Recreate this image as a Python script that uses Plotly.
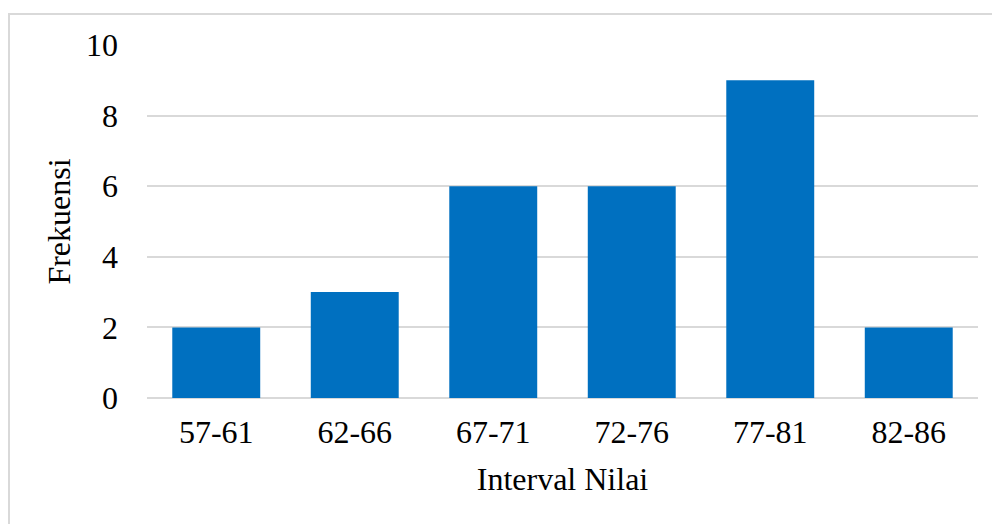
import plotly.graph_objects as go

# Frequency distribution of scores
intervals = ["57-61", "62-66", "67-71", "72-76", "77-81", "82-86"]
frequencies = [2, 3, 6, 6, 9, 2]
y_ticks = [0, 2, 4, 6, 8, 10]

W, H = 992, 524
L, R, T, B = 147, 14, 45, 126
pw, ph = W - L - R, H - T - B

fig = go.Figure(
    go.Bar(
        x=intervals,
        y=frequencies,
        marker=dict(color="#0070C0", line=dict(width=0)),
    )
)

font_family = "Liberation Serif, Times New Roman, serif"
fs = 32

fig.update_layout(
    width=W,
    height=H,
    margin=dict(l=L, r=R, t=T, b=B),
    paper_bgcolor="white",
    plot_bgcolor="white",
    bargap=0.365,
    showlegend=False,
    font=dict(family=font_family, size=fs, color="#000000"),
    xaxis=dict(
        showgrid=False,
        showline=False,
        ticks="",
        ticklabelstandoff=12,
        tickfont=dict(size=fs),
        title=dict(text="Interval Nilai", font=dict(size=fs), standoff=18),
    ),
    yaxis=dict(
        range=[0, 10],
        tickvals=y_ticks,
        showgrid=True,
        gridcolor="#d9d9d9",
        gridwidth=1.5,
        zeroline=True,
        zerolinecolor="#d9d9d9",
        zerolinewidth=1.5,
        showline=False,
        ticks="",
        ticklabelstandoff=28,
        tickfont=dict(size=fs),
        title=dict(text="Frekuensi", font=dict(size=fs), standoff=5),
    ),
    shapes=[
        dict(
            type="rect",
            xref="paper",
            yref="paper",
            x0=(9 - L) / pw,
            x1=1 + (R + 20) / pw,
            y0=-(B + 20) / ph,
            y1=1 + (T - 14) / ph,
            line=dict(color="#d9d9d9", width=2),
            fillcolor="rgba(0,0,0,0)",
            layer="below",
        )
    ],
)

fig.write_html("out.html")
